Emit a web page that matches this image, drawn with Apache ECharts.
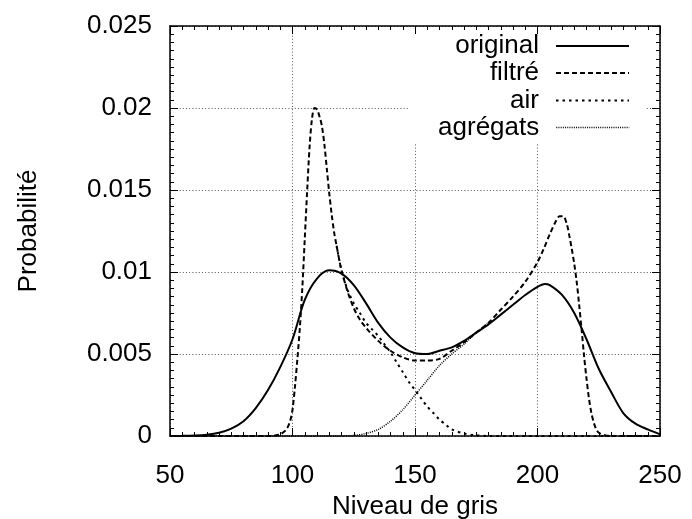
<!DOCTYPE html>
<html>
<head>
<meta charset="utf-8">
<script src="https://cdn.jsdelivr.net/npm/echarts@6/dist/echarts.min.js"></script>
<style>html,body{margin:0;padding:0;background:#fff;}#c{width:692px;height:519px;}</style>
</head>
<body>
<div id="c"></div>
<script>
// ---- data ----
const seriesNames = ['original', 'filtré', 'air', 'agrégats'];
const xTicks = [50, 100, 150, 200, 250];
const yTickLabels = ['0', '0.005', '0.01', '0.015', '0.02', '0.025'];

const origX = [50,55,60,65,70,75,80,85,90,95,100,105,110,115,120,125,130,135,140,145,150,155,160,165,170,175,180,185,190,195,200,203,205,210,215,220,225,230,235,240,245,250];
const origY = [0.00000,0.00001,0.00003,0.00008,0.0002,0.00045,0.0009,0.0017,0.0028,0.0042,0.0059,0.0083,0.0096,0.0101,0.0099,0.0092,0.0081,0.0069,0.0060,0.0054,0.00505,0.0050,0.0052,0.0054,0.0058,0.0063,0.0068,0.0074,0.0080,0.0086,0.0091,0.00927,0.0092,0.0086,0.0075,0.0059,0.0041,0.0027,0.0014,0.00075,0.0004,0.0001];

const filtX = [50,60,70,80,90,92.5,95,97.5,99,100,101,102,103,104,105,106,107,108,109,110,111,112,113,114,115,116,117,118,119,120,122.5,125,127.5,130,135,140,145,150,155,160,165,170,175,180,185,190,195,200,202.5,205,207.5,209,210.5,212,213,214,215,216,217,218,219,220,221,222,223,224,225,227.5,230,240,250];
const filtY = [0,0,0,0,0,0.00002,0.0001,0.0004,0.0009,0.0016,0.0030,0.0047,0.0066,0.0090,0.0120,0.0150,0.0177,0.0194,0.0200,0.0199,0.0195,0.0189,0.0178,0.0163,0.0148,0.0135,0.0124,0.0116,0.0108,0.0101,0.0088,0.0078,0.0071,0.0066,0.0058,0.0052,0.0048,0.0046,0.0046,0.0047,0.0052,0.0057,0.0063,0.0069,0.0077,0.0085,0.0094,0.0106,0.0114,0.0123,0.0131,0.0134,0.0134,0.0129,0.0122,0.0114,0.0105,0.0094,0.0080,0.0065,0.0049,0.0035,0.0023,0.0014,0.0008,0.0004,0.0002,0.00005,0,0,0];

// visible part of "air" (where it separates from "filtré")
const airX = [118,120,122.5,125,127.5,130,132.5,135,137.5,140,142.5,145,147.5,150,152.5,155,157.5,160,162.5,165,170,175,180,190,200,210,220,230,240,250];
const airY = [0.0116,0.0101,0.0089,0.0081,0.0075,0.0069,0.0065,0.0061,0.0056,0.0051,0.0045,0.0039,0.0033,0.0028,0.0023,0.0018,0.0014,0.0010,0.0007,0.0004,0.00015,0.00004,0,0,0,0,0,0,0,0];

// visible part of "agrégats" (until it merges with "filtré")
const aggX = [50,100,120,125,130,135,140,145,150,155,160,165,170,175,180];
const aggY = [0,0,0,0.00003,0.00015,0.0004,0.0009,0.0016,0.0025,0.0034,0.0043,0.0050,0.0056,0.0063,0.0069];

// ---- chart ----
const FONT = 'Liberation Sans, Arial, Helvetica, sans-serif';
const FS = 26;
const pairs = (xs, ys) => xs.map((x, i) => [x, ys[i]]);

const styles = [
  { width: 2, type: 'solid' },
  { width: 2, type: [5, 3] },
  { width: 2, type: [2.5, 4] },
  { width: 1.5, type: [1, 1.2] }
];
const dataSets = [pairs(origX, origY), pairs(filtX, filtY), pairs(airX, airY), pairs(aggX, aggY)];
const legendCenters = [46, 73, 100.5, 127.5];

const xMin = xTicks[0], xMax = xTicks[xTicks.length - 1], xStep = xTicks[1] - xTicks[0];
const yStep = 0.005, yMax = yStep * (yTickLabels.length - 1);

function axisCommon(extra) {
  return Object.assign({
    axisLine: { show: true, onZero: false, lineStyle: { color: '#000', width: 1.5 } },
    axisTick: { show: true, inside: true, length: 8, lineStyle: { color: '#000', width: 1 } },
    minorTick: { show: true, splitNumber: 10, length: 4, lineStyle: { color: '#000', width: 1 } },
    minorSplitLine: { show: false }
  }, extra);
}

const option = {
  backgroundColor: '#fff',
  animation: false,
  grid: { left: 170, right: 32, top: 26, bottom: 83, containLabel: false, outerBoundsMode: 'none' },
  xAxis: [
    axisCommon({
      type: 'value', min: xMin, max: xMax, interval: xStep, position: 'bottom',
      name: 'Niveau de gris', nameLocation: 'middle', nameGap: 52,
      nameTextStyle: { fontFamily: FONT, fontSize: FS, color: '#000' },
      axisLabel: { fontFamily: FONT, fontSize: FS, color: '#000', margin: 27 },
      splitLine: { show: true, lineStyle: { color: '#555', width: 1, type: [1, 2.2] } }
    }),
    axisCommon({
      type: 'value', min: xMin, max: xMax, interval: xStep, position: 'top',
      axisLabel: { show: false }, splitLine: { show: false }
    })
  ],
  yAxis: [
    axisCommon({
      type: 'value', min: 0, max: yMax, interval: yStep, position: 'left',
      name: 'Probabilité', nameLocation: 'middle', nameGap: 128, nameRotate: 90,
      nameTextStyle: { fontFamily: FONT, fontSize: FS, color: '#000' },
      axisLabel: { fontFamily: FONT, fontSize: FS, color: '#000', margin: 18,
        formatter: v => yTickLabels[Math.round(v / yStep)] },
      splitLine: { show: true, lineStyle: { color: '#555', width: 1, type: [1, 2.2] } }
    }),
    axisCommon({
      type: 'value', min: 0, max: yMax, interval: yStep, position: 'right',
      axisLabel: { show: false }, splitLine: { show: false }
    })
  ],
  graphic: [{
    type: 'rect', z: 1,
    shape: { x: 408, y: 35, width: 237, height: 108 },
    style: { fill: '#fff' }
  }],
  legend: seriesNames.map((n, i) => ({
    data: [n], orient: 'vertical', align: 'right', right: 62, top: legendCenters[i] - 13,
    padding: 0, itemWidth: 73, itemHeight: 26, selectedMode: false,
    lineStyle: { width: styles[i].width },
    itemStyle: { opacity: 0, color: 'rgba(0,0,0,0)', borderWidth: 0 },
    textStyle: { fontFamily: FONT, fontSize: FS, color: '#000', padding: [0, 12, 0, 0] }
  })),
  series: seriesNames.map((n, i) => ({
    name: n, type: 'line', xAxisIndex: 0, yAxisIndex: 0,
    data: dataSets[i], showSymbol: false, symbol: 'none', smooth: 0.3,
    lineStyle: { color: '#000', width: styles[i].width, type: styles[i].type },
    itemStyle: { color: '#000' },
    z: 2 + i
  }))
};

const chart = echarts.init(document.getElementById('c'), null, { renderer: 'canvas' });
chart.setOption(option);
</script>
</body>
</html>
